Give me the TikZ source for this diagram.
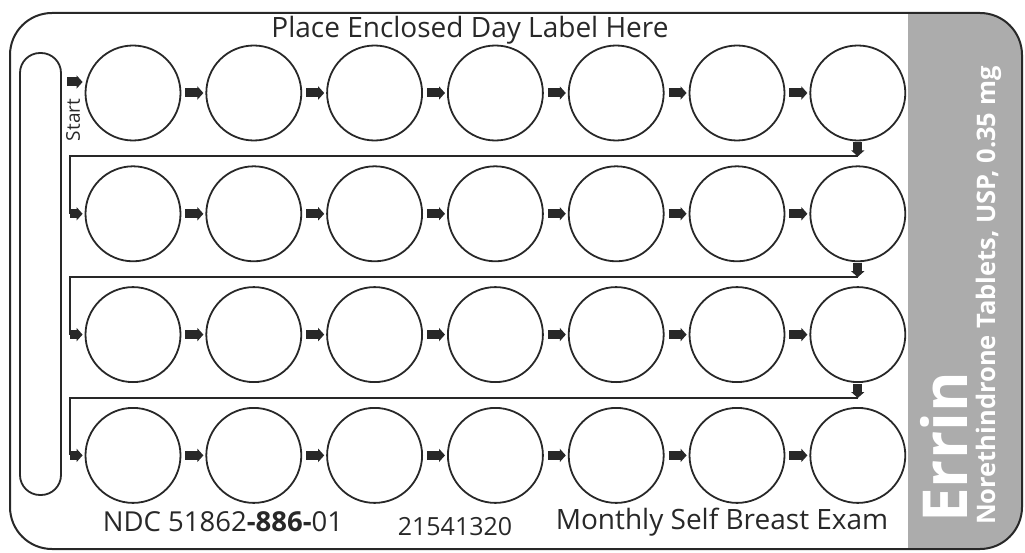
\documentclass[tikz,border=0pt]{standalone}
\usepackage{fontspec}
\setmainfont{Open Sans}
\usetikzlibrary{arrows.meta,positioning}
\definecolor{panelgray}{RGB}{172,172,172}
\definecolor{inkgray}{RGB}{40,40,40}

\begin{document}
\begin{tikzpicture}[
    x=1pt, y=-1pt,
    node distance=24pt,
    every node/.style={align=center, text=inkgray},
    pill/.style={circle, draw=inkgray, line width=1.8pt, minimum size=95pt, inner sep=0pt},
    blk/.style={draw=inkgray, line width=9pt, -{Triangle[length=6pt,width=13pt]}, shorten <=4pt, shorten >=2pt},
    conn/.style={draw=inkgray, line width=1.8pt},
    txt/.style={font=\fontsize{28}{32}\selectfont},
    side/.style={rotate=90, anchor=base west, inner sep=0pt, text=white, font=\bfseries}
]
\useasboundingbox (0,0) rectangle (1025,553);

% Card and label panel
\begin{scope}
  \clip[rounded corners=42pt] (10,13) rectangle (1022,549);
  \fill[panelgray] (908,0) rectangle (1025,553);
\end{scope}
\draw[inkgray, line width=2pt, rounded corners=42pt] (10,13) rectangle (1022,549);
\draw[inkgray, line width=1.8pt, rounded corners=20pt] (20,53) rectangle (61,495);

% Tablets
\node[pill] (d1-1) at (133,93) {};
\foreach \r [remember=\r as \q (initially 1)] in {2,3,4}
  \node[pill, below=of d\q-1] (d\r-1) {};
\foreach \r in {1,...,4}
  \foreach \c [remember=\c as \p (initially 1)] in {2,...,7}
    \node[pill, right=of d\r-\p] (d\r-\c) {};

% Arrows
\foreach \r in {1,...,4}
  \foreach \c [remember=\c as \p (initially 1)] in {2,...,7}
    \draw[blk] (d\r-\p) -- (d\r-\c);
\foreach \r [count=\n from 2] in {1,2,3} {
  \draw[blk, shorten <=1pt, shorten >=0pt] (d\r-7.south) -- ++(0,15) coordinate (t\r);
  \path (d\n-1.west) ++(-15,0) coordinate (s\n);
  \draw[conn] (t\r) -| (s\n);
  \draw[blk, shorten <=0pt] (s\n) -- (d\n-1);
}
\coordinate (st) at (67,82);
\draw[blk, shorten <=0pt] (st) -- (st -| d1-1.west);
\node[rotate=90, font=\fontsize{19}{22}\selectfont, inner sep=0pt] (start) at (73,120) {Start};

% Texts
\node[txt] (title) at (470,30) {Place Enclosed Day Label Here};
\node[txt, font=\fontsize{27.5}{32}\selectfont] (ndc) at (223,522) {NDC 51862\textbf{-886-}01};
\node[txt, font=\fontsize{25}{30}\selectfont] (lot) at (455,527) {21541320};
\node[txt] (exam) at (722,522) {Monthly Self Breast Exam};
\node[side, font=\bfseries\fontsize{62}{66}\selectfont] (brand) at (967,523) {Errin};
\node[side, font=\bfseries\fontsize{25.5}{29}\selectfont] (drug) at (995,525) {Norethindrone Tablets, USP, 0.35 mg};

\end{tikzpicture}
\end{document}
